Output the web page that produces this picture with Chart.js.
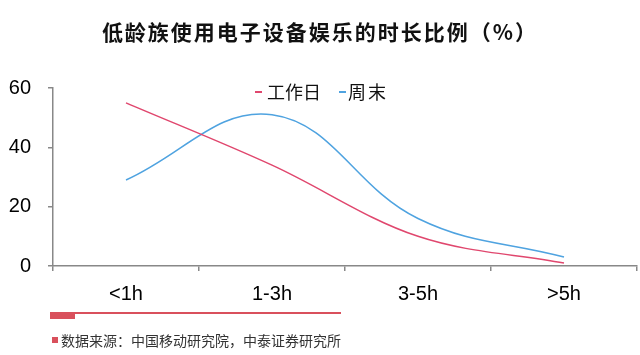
<!DOCTYPE html>
<html><head><meta charset="utf-8">
<script src="https://cdn.jsdelivr.net/npm/chart.js@4/dist/chart.umd.min.js"></script>
<style>
html,body{margin:0;padding:0;background:#fff;}
#wrap{position:relative;width:640px;height:355px;overflow:hidden;}
#c{position:absolute;left:0;top:0;}
.title{position:absolute;left:0;width:640px;top:17px;text-align:center;font-family:"Noto Sans CJK SC";font-weight:700;font-size:21px;line-height:28px;color:#111;letter-spacing:2px;}
.lg{position:absolute;font-family:"Noto Sans CJK SC";font-size:18px;line-height:24px;color:#111;white-space:nowrap;}
.mk{position:absolute;width:7px;height:2px;}
.foot-line{position:absolute;left:50px;top:312px;width:291px;height:2px;background:#D9505C;}
.foot-block{position:absolute;left:50px;top:312px;width:25px;height:7px;background:#D9505C;}
.foot-sq{position:absolute;left:52px;top:337px;width:6px;height:6px;background:#D9505C;}
.foot{position:absolute;left:61px;top:330px;font-family:"Noto Sans CJK SC";font-size:14px;line-height:20px;color:#333;white-space:nowrap;}
</style></head>
<body><div id="wrap">
<canvas id="c" width="640" height="355"></canvas>
<div class="title">低龄族使用电子设备娱乐的时长比例（%）</div>
<div class="mk" style="left:255px;top:91px;background:#E0476E"></div>
<div class="lg" style="left:267px;top:79px">工作日</div>
<div class="mk" style="left:339px;top:91px;background:#4FA3E0"></div>
<div class="lg" style="left:348px;top:79px;letter-spacing:2px">周末</div>
<div class="foot-line"></div><div class="foot-block"></div><div class="foot-sq"></div>
<div class="foot">数据来源：中国移动研究院，中泰证券研究所</div>
</div>
<script>
const categories = ['<1h', '1-3h', '3-5h', '>5h'];
const workday = [55, 34, 10, 1];
const weekend = [29, 51, 16, 3];
const seriesNames = ['工作日', '周末'];
const yTicks = [0, 20, 40, 60];

new Chart(document.getElementById('c'), {
  type: 'line',
  data: {
    labels: categories,
    datasets: [
      {label: seriesNames[0], data: workday, borderColor: '#E0476E', borderWidth: 1.5, pointRadius: 0, tension: 0.35, fill: false},
      {label: seriesNames[1], data: weekend, borderColor: '#4FA3E0', borderWidth: 1.5, pointRadius: 0, tension: 0.4, fill: false}
    ]
  },
  options: {
    responsive: false, animation: false,
    layout: {padding: {top: 88, right: 3, left: 0, bottom: 0}},
    plugins: {legend: {display: false}, tooltip: {enabled: false}},
    scales: {
      x: {
        offset: true,
        grid: {offset: true, drawOnChartArea: false, drawTicks: true, tickLength: 5, color: '#888', lineWidth: 1.5},
        border: {color: '#888', width: 1.5},
        ticks: {font: {family: 'Liberation Sans', size: 20}, color: '#000', padding: 11},
        afterFit: s => { s.height = 89; }
      },
      y: {
        min: 0, max: 60,
        afterBuildTicks: s => { s.ticks = yTicks.map(v => ({value: v})); },
        grid: {drawOnChartArea: false, drawTicks: true, tickLength: 5, color: '#888', lineWidth: 1.5},
        border: {color: '#888', width: 1.5},
        ticks: {font: {family: 'Liberation Sans', size: 20}, color: '#000', padding: 17},
        afterFit: s => { s.width = 53; }
      }
    }
  }
});
</script>
</body></html>
